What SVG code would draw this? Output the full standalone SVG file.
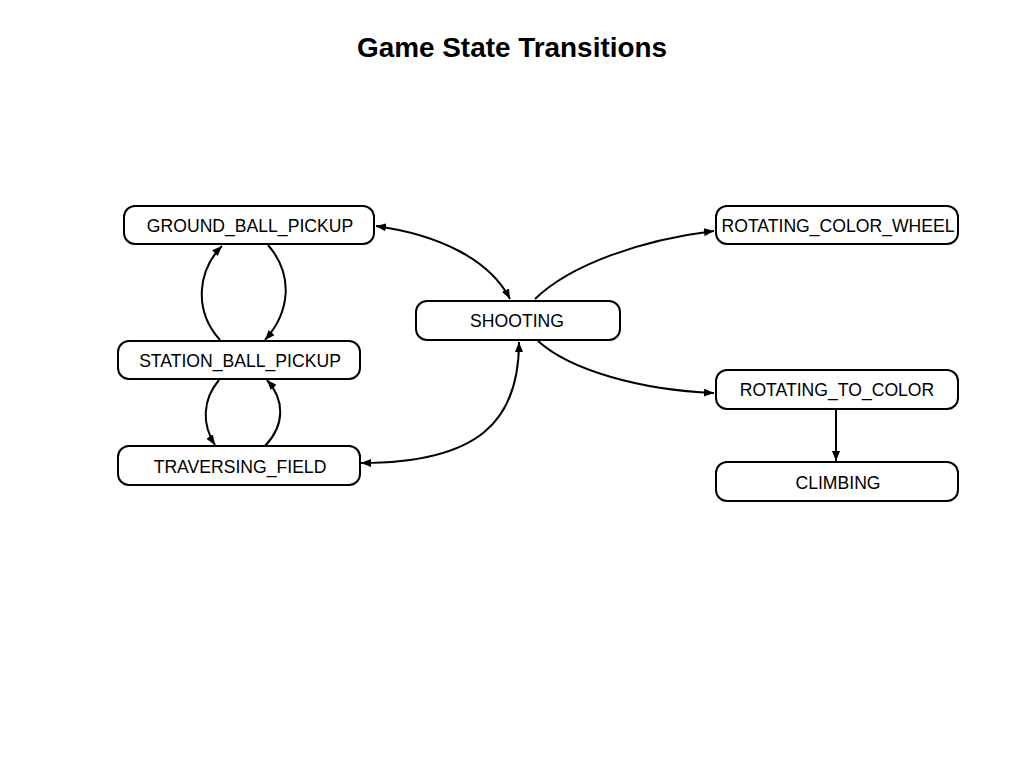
<svg xmlns="http://www.w3.org/2000/svg" width="1024" height="768" viewBox="0 0 1024 768">
<style>
.node rect{fill:#fff;stroke:#000;stroke-width:2}
.node text{font-family:"Liberation Sans",Arial,sans-serif;font-size:17.6px;fill:#000;text-anchor:middle;dominant-baseline:central}
.edge{fill:none;stroke:#000;stroke-width:2}
.title{font-family:"Liberation Sans",Arial,sans-serif;font-size:27.9px;font-weight:bold;text-anchor:middle}
</style>
<defs>
<marker id="ah" viewBox="0 0 10 8" refX="10" refY="4" markerWidth="10" markerHeight="8" markerUnits="userSpaceOnUse" orient="auto-start-reverse">
<path d="M0,0 L10,4 L0,8 Z" fill="#000"/>
</marker>
</defs>
<rect width="1024" height="768" fill="#fff"/>
<text class="title" x="512" y="57">Game State Transitions</text>
<g id="connectors">
<path class="edge" d="M376,226 C440,235 490,260 510,299" marker-start="url(#ah)" marker-end="url(#ah)"/>
<path class="edge" d="M535,299 C570,265 640,240 714,231" marker-end="url(#ah)"/>
<path class="edge" d="M538,341 C570,370 640,390 714,393" marker-end="url(#ah)"/>
<path class="edge" d="M836,409 L836,461" marker-end="url(#ah)"/>
<path class="edge" d="M519,342 C519,420 480,463 361,463" marker-start="url(#ah)" marker-end="url(#ah)"/>
<path class="edge" d="M220,340 C193,310 198,270 222,246" marker-end="url(#ah)"/>
<path class="edge" d="M268,245 C294,275 290,312 265,340" marker-end="url(#ah)"/>
<path class="edge" d="M219,380 C202,400 202,425 215,445" marker-end="url(#ah)"/>
<path class="edge" d="M265,446 C285,425 285,400 267,380" marker-end="url(#ah)"/>
</g>
<g id="GROUND_BALL_PICKUP" class="node"><rect x="124" y="206" width="250" height="38" rx="11"/><text x="250" y="226">GROUND_BALL_PICKUP</text></g>
<g id="STATION_BALL_PICKUP" class="node"><rect x="118" y="341" width="242" height="38" rx="11"/><text x="240" y="361">STATION_BALL_PICKUP</text></g>
<g id="TRAVERSING_FIELD" class="node"><rect x="118" y="446" width="242" height="39" rx="11"/><text x="240" y="467">TRAVERSING_FIELD</text></g>
<g id="SHOOTING" class="node"><rect x="416" y="301" width="204" height="39" rx="11"/><text x="517" y="321">SHOOTING</text></g>
<g id="ROTATING_COLOR_WHEEL" class="node"><rect x="716" y="206" width="242" height="38" rx="11"/><text x="838" y="226">ROTATING_COLOR_WHEEL</text></g>
<g id="ROTATING_TO_COLOR" class="node"><rect x="716" y="370" width="242" height="39" rx="11"/><text x="837" y="390">ROTATING_TO_COLOR</text></g>
<g id="CLIMBING" class="node"><rect x="716" y="462" width="242" height="39" rx="11"/><text x="838" y="483">CLIMBING</text></g>
</svg>
